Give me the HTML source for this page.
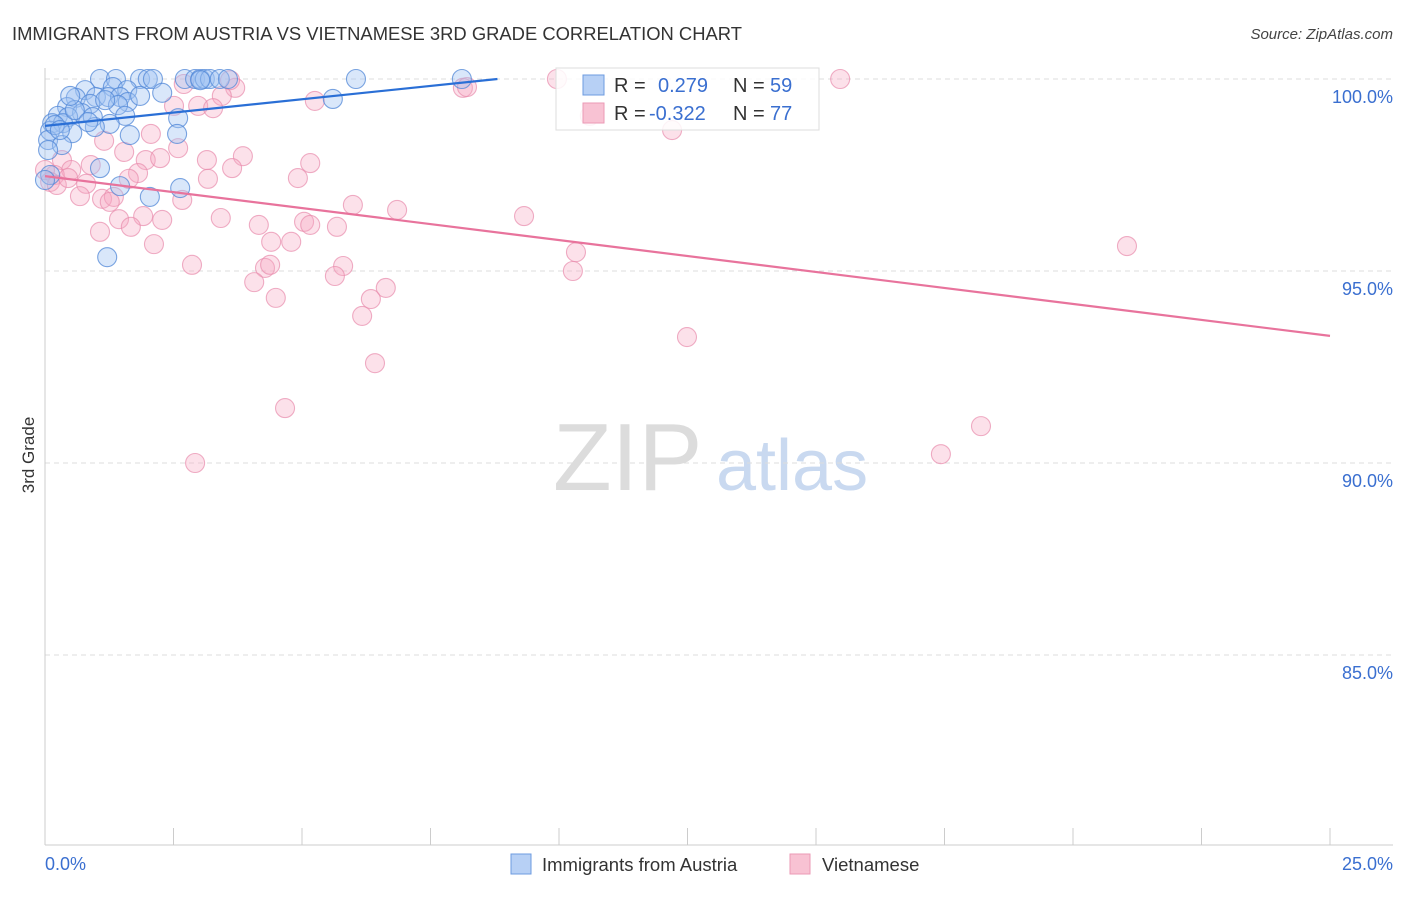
<!DOCTYPE html>
<html><head><meta charset="utf-8"><style>
body{margin:0;background:#fff;font-family:"Liberation Sans",sans-serif;}
svg text{font-family:"Liberation Sans",sans-serif;}
</style></head><body>
<svg id="chart" width="1406" height="892">
<text x="12" y="40" font-size="18.4" fill="#333">IMMIGRANTS FROM AUSTRIA VS VIETNAMESE 3RD GRADE CORRELATION CHART</text>
<text x="1393" y="39" font-size="15" fill="#444" font-style="italic" text-anchor="end">Source: ZipAtlas.com</text>
<text transform="translate(34,455) rotate(-90)" font-size="17" fill="#333" text-anchor="middle">3rd Grade</text>
<g>
<text x="553" y="490" font-size="96" fill="#dcdcdc" font-family="Liberation Serif,serif">ZIP</text>
<text x="716" y="490" font-size="72" fill="#c9d9f0">atlas</text>
</g>
<g id="grid"></g><g id="axes"></g><g id="pts"></g><g id="lines"></g>
<g>
<rect x="556" y="68" width="263" height="62" fill="#fff" fill-opacity="0.85" stroke="#ddd"/>
<rect x="583" y="75" width="21" height="20" fill="#b7d0f5" stroke="#6d9be0"/>
<rect x="583" y="103" width="21" height="20" fill="#f8c2d3" stroke="#eb9ab6"/>
<text x="614" y="92" font-size="20" fill="#333">R = </text><text x="658" y="92" font-size="20" fill="#3a6fd0">0.279</text>
<text x="733" y="92" font-size="20" fill="#333">N = </text><text x="770" y="92" font-size="20" fill="#3a6fd0">59</text>
<text x="614" y="120" font-size="20" fill="#333">R = </text><text x="649" y="120" font-size="20" fill="#3a6fd0">-0.322</text>
<text x="733" y="120" font-size="20" fill="#333">N = </text><text x="770" y="120" font-size="20" fill="#3a6fd0">77</text>
</g>
<g>
<rect x="511" y="854" width="20" height="20" fill="#b7d0f5" stroke="#6d9be0"/>
<text x="542" y="871" font-size="18.5" fill="#333">Immigrants from Austria</text>
<rect x="790" y="854" width="20" height="20" fill="#f8c2d3" stroke="#eb9ab6"/>
<text x="822" y="871" font-size="18.5" fill="#333">Vietnamese</text>
</g>
</svg>
<script>
const blueX=[1.07,1.38,1.85,2.00,2.10,2.72,2.92,3.02,3.11,3.21,3.40,3.56,6.05,8.11,1.32,0.78,1.60,2.28,0.60,0.99,1.23,1.46,1.61,5.60,0.43,0.88,1.42,0.72,0.25,0.45,0.93,1.56,2.59,0.14,0.35,1.26,0.97,0.10,0.53,1.65,2.57,0.06,0.33,0.06,1.07,1.46,2.63,2.04,1.21,0.10,0.00,0.19,0.58,1.17,0.84,0.29,0.49,1.85,3.02];
const blueY=[100,100,100,100,100,100,100,100,100,100,100,100,100,100,99.79,99.71,99.71,99.64,99.51,99.53,99.53,99.53,99.40,99.48,99.27,99.35,99.32,99.11,99.04,99.01,99.01,99.04,98.98,98.85,98.85,98.83,98.75,98.65,98.59,98.54,98.57,98.41,98.28,98.15,97.68,97.21,97.16,96.93,95.36,97.50,97.37,98.80,99.19,99.45,98.88,98.67,99.56,99.56,99.97];
const pinkX=[9.96,15.47,8.13,8.21,2.70,3.70,3.60,3.44,2.98,3.27,2.51,5.25,10.60,12.20,2.06,1.15,2.59,1.54,0.33,1.96,2.24,3.85,3.15,3.64,5.16,0.89,0.51,1.81,1.63,4.92,3.17,0.80,0.68,1.11,1.34,1.26,2.67,1.91,1.44,2.28,3.42,5.99,6.85,9.32,4.16,5.04,5.16,5.68,1.07,1.67,2.12,4.40,4.79,10.33,21.05,2.86,4.28,4.38,5.80,10.27,5.64,4.07,6.63,4.49,6.34,6.17,12.49,6.42,4.67,18.21,17.43,2.92,0.19,0.10,0.23,0.00,0.45];
const pinkY=[100,100,99.77,99.79,99.87,99.77,99.97,99.56,99.30,99.24,99.30,99.43,99.04,98.67,98.57,98.39,98.20,98.10,97.89,97.89,97.94,97.99,97.89,97.68,97.81,97.76,97.63,97.55,97.40,97.42,97.40,97.27,96.95,96.88,96.93,96.80,96.85,96.43,96.35,96.33,96.38,96.72,96.59,96.43,96.20,96.28,96.20,96.15,96.02,96.15,95.70,95.76,95.76,95.49,95.65,95.16,95.08,95.16,95.13,95.00,94.87,94.71,94.56,94.30,94.27,93.83,93.28,92.60,91.43,90.96,90.23,90.00,97.50,97.32,97.24,97.63,97.42];
const blueTrend=[98.78,0.1386];
const pinkTrend=[97.47,-0.1664];
const yTicks=[100,95,90,85];
const yTickLabels=["100.0%","95.0%","90.0%","85.0%"];
const xTickCount=10;
const xLabels=["0.0%","25.0%"];
const X0=45,X1=1330,XMAX=25,YT=79,PX_PER_PCT=38.4,YB=845;
const sx=v=>X0+v/XMAX*(X1-X0);
const sy=v=>YT+(100-v)*PX_PER_PCT;
const NS="http://www.w3.org/2000/svg";
function mk(parent,tag,attrs){const e=document.createElementNS(NS,tag);for(const k in attrs)e.setAttribute(k,attrs[k]);document.getElementById(parent).appendChild(e);return e;}
yTicks.forEach((t,i)=>{
  const g=mk('grid','line',{x1:X0,x2:1393,y1:sy(t),y2:sy(t),stroke:'#ddd','stroke-dasharray':'5,4'});
  
  
  const l=mk('grid','text',{x:1393,y:sy(t)+24,'text-anchor':'end','font-size':18,fill:'#3a6fd0'});
  l.textContent=yTickLabels[i];
  
  
});
const ya=mk('axes','line',{x1:X0,x2:X0,y1:68,y2:YB,stroke:'#ccc'});


const xa=mk('axes','line',{x1:X0,x2:1393,y1:YB,y2:YB,stroke:'#ccc'});


for(let i=0;i<=xTickCount;i++){
  const x=sx(i*XMAX/xTickCount);
  const t=mk('axes','line',{x1:x,x2:x,y1:YB,y2:828,stroke:'#ccc'});
  
  
}
const xl0=mk('axes','text',{x:45,y:870,'font-size':18,fill:'#3a6fd0'});xl0.textContent=xLabels[0];


const xl1=mk('axes','text',{x:1393,y:870,'font-size':18,fill:'#3a6fd0','text-anchor':'end'});xl1.textContent=xLabels[1];


pinkX.forEach((v,i)=>{
  const c=mk('pts','circle',{cx:sx(v),cy:sy(pinkY[i]),r:9.5,fill:'rgba(246,170,196,0.35)',stroke:'rgba(232,140,172,0.7)','stroke-width':1.1});
  
  
});
blueX.forEach((v,i)=>{
  const c=mk('pts','circle',{cx:sx(v),cy:sy(blueY[i]),r:9.5,fill:'rgba(160,195,242,0.4)',stroke:'rgba(80,135,215,0.75)','stroke-width':1.1});
  
  
});
const bEnd=Math.min(XMAX,(100-blueTrend[0])/blueTrend[1]);
const bl=mk('lines','line',{x1:sx(0),y1:sy(blueTrend[0]),x2:sx(bEnd),y2:sy(blueTrend[0]+blueTrend[1]*bEnd),stroke:'#2a6fd6','stroke-width':2.2});


const pl=mk('lines','line',{x1:sx(0),y1:sy(pinkTrend[0]),x2:sx(XMAX),y2:sy(pinkTrend[0]+pinkTrend[1]*XMAX),stroke:'#e8739c','stroke-width':2.2});


</script>
</body></html>
